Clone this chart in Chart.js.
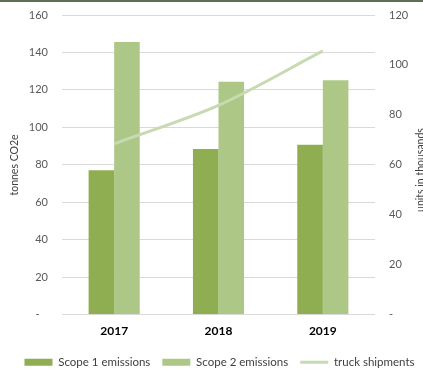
<!DOCTYPE html>
<html>
<head>
<meta charset="utf-8">
<script src="https://cdn.jsdelivr.net/npm/chart.js@4.4.1/dist/chart.umd.min.js"></script>
<style>
  html, body { margin: 0; padding: 0; background: #fff; }
  #wrap { position: relative; width: 423px; height: 370px; overflow: hidden; }
  #topRule { position: absolute; left: 0; top: 0; width: 423px; height: 2px; background: #5e6f55; }
</style>
</head>
<body>
<div id="wrap">
  <canvas id="emissionsChart" width="423" height="370"></canvas>
  <div id="topRule"></div>
</div>
<script>
// Emissions vs. truck shipments
const years = ['2017', '2018', '2019'];
const scope1 = [77, 88.4, 90.7];
const scope2 = [145.6, 124.4, 125.1];
const truckShipments = [68.4, 83.8, 105.6];

const tonnesTicks = { min: 0, max: 160, step: 20 };
const unitsTicks = { min: 0, max: 120, step: 20 };

const FONT = 'Lato, "Open Sans", sans-serif';
const TICK_COLOR = '#595959';

// zero shows as a dash, like accounting format
const dashZero = (v) => (v === 0 ? '-   ' : v);

// both axis titles read bottom-to-top; the right one runs off the canvas edge
function drawVerticalTitle(ctx, text, x, y) {
  ctx.save();
  ctx.translate(x, y);
  ctx.rotate(-Math.PI / 2);
  ctx.font = '10.5px ' + FONT;
  ctx.fillStyle = '#404040';
  ctx.textAlign = 'center';
  ctx.textBaseline = 'middle';
  ctx.fillText(text, 0, 0);
  ctx.restore();
}

const axisTitles = {
  id: 'axisTitles',
  afterLayout(chart) {
    // nudge the legend row a little to the right
    chart.legend.left += 8;
    chart.legend.right += 8;
  },
  afterDraw(chart) {
    drawVerticalTitle(chart.ctx, 'tonnes CO2e', 15, 165);
    drawVerticalTitle(chart.ctx, 'units in thousands', 421, 170);
  }
};

// let the plot run right up to the top padding
const noTopPad = (s) => { s.paddingTop = 0; };

const ctx = document.getElementById('emissionsChart').getContext('2d');
new Chart(ctx, {
  data: {
    labels: years,
    datasets: [
      {
        type: 'bar',
        label: 'Scope 1 emissions',
        data: scope1,
        backgroundColor: '#8fae52',
        yAxisID: 'y',
        categoryPercentage: 0.49,
        barPercentage: 1
      },
      {
        type: 'bar',
        label: 'Scope 2 emissions',
        data: scope2,
        backgroundColor: '#adc787',
        yAxisID: 'y',
        categoryPercentage: 0.49,
        barPercentage: 1
      },
      {
        type: 'line',
        label: 'truck shipments',
        data: truckShipments,
        borderColor: '#c7dab1',
        backgroundColor: '#c7dab1',
        borderWidth: 3,
        pointRadius: 0,
        tension: 0.3,
        yAxisID: 'y1',
        order: -1
      }
    ]
  },
  plugins: [axisTitles],
  options: {
    responsive: false,
    animation: false,
    layout: { padding: { top: 15, left: 0, right: 0, bottom: -8 } },
    plugins: {
      tooltip: { enabled: false },
      legend: {
        position: 'bottom',
        labels: {
          usePointStyle: true,
          pointStyleWidth: 28,
          boxHeight: 7,
          padding: 12,
          color: '#404040',
          font: { family: FONT, size: 11.5 },
          sort: (a, b) => a.datasetIndex - b.datasetIndex,
          generateLabels(chart) {
            const items = Chart.defaults.plugins.legend.labels.generateLabels(chart);
            items.forEach((it) => {
              const ds = chart.data.datasets[it.datasetIndex];
              it.pointStyle = ds.type === 'line' ? 'line' : 'rect';
              if (ds.type !== 'line') it.lineWidth = 0;
            });
            return items;
          }
        }
      }
    },
    scales: {
      x: {
        grid: { display: false },
        border: { display: false },
        ticks: { color: '#000', padding: 1, font: { family: FONT, size: 12, weight: 'bold' } },
        afterFit: (s) => { s.height = 30; }
      },
      y: {
        position: 'left',
        min: tonnesTicks.min,
        max: tonnesTicks.max,
        ticks: {
          stepSize: tonnesTicks.step,
          color: TICK_COLOR,
          padding: 14,
          font: { family: FONT, size: 11 },
          callback: dashZero
        },
        grid: { color: '#d9d9d9', drawTicks: false },
        border: { display: false },
        afterFit: (s) => { s.width = 62; noTopPad(s); }
      },
      y1: {
        position: 'right',
        min: unitsTicks.min,
        max: unitsTicks.max,
        ticks: {
          stepSize: unitsTicks.step,
          color: TICK_COLOR,
          padding: 14,
          font: { family: FONT, size: 11 },
          callback: dashZero
        },
        grid: { display: false, drawTicks: false },
        border: { display: false },
        afterFit: (s) => { s.width = 48; noTopPad(s); }
      }
    }
  }
});
</script>
</body>
</html>
